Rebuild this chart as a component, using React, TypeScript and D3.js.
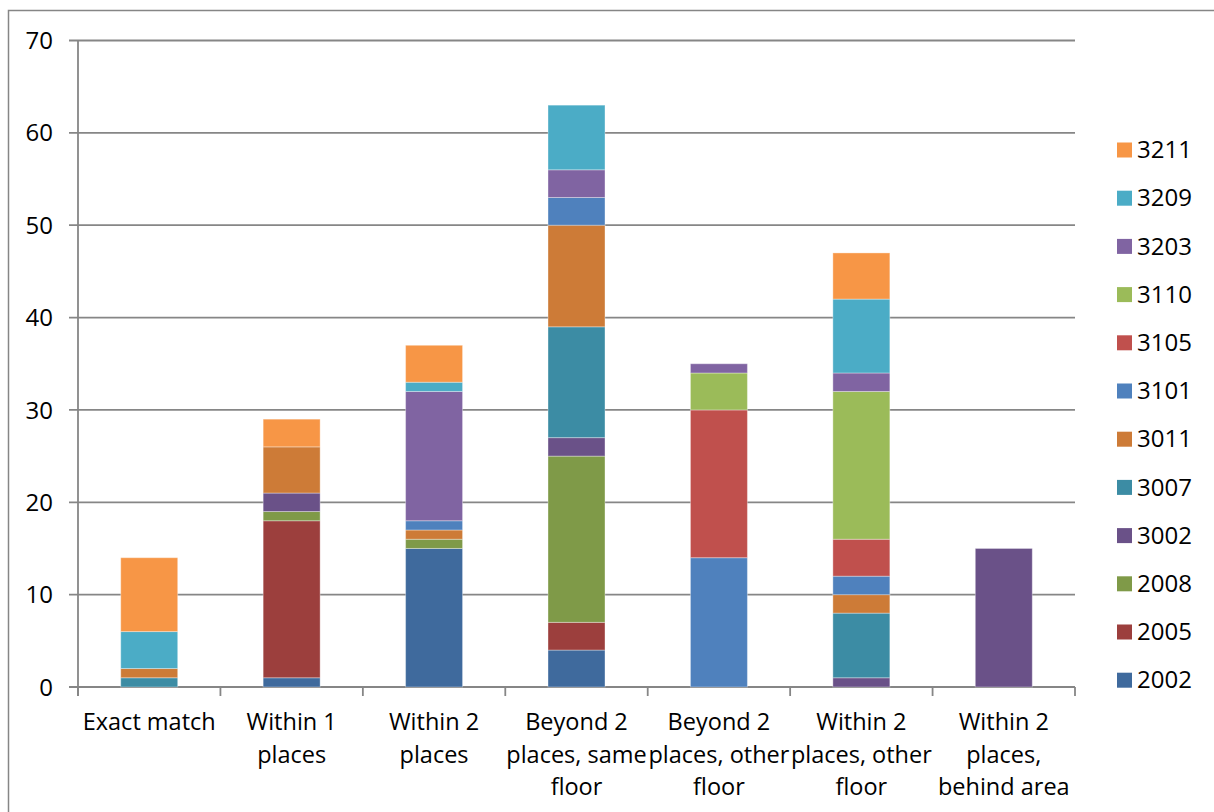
import React, { useEffect, useRef } from "react";
import * as d3 from "d3";

const categories: string[][] = [
  ["Exact match"],
  ["Within 1", "places"],
  ["Within 2", "places"],
  ["Beyond 2", "places, same", "floor"],
  ["Beyond 2", "places, other", "floor"],
  ["Within 2", "places, other", "floor"],
  ["Within 2", "places,", "behind area"],
];

const seriesNames = ["2002", "2005", "2008", "3002", "3007", "3011", "3101", "3105", "3110", "3203", "3209", "3211"];
const s2002 = [0, 1, 15, 4, 0, 0, 0];
const s2005 = [0, 17, 0, 3, 0, 0, 0];
const s2008 = [0, 1, 1, 18, 0, 0, 0];
const s3002 = [0, 2, 0, 2, 0, 1, 15];
const s3007 = [1, 0, 0, 12, 0, 7, 0];
const s3011 = [1, 5, 1, 11, 0, 2, 0];
const s3101 = [0, 0, 1, 3, 14, 2, 0];
const s3105 = [0, 0, 0, 0, 16, 4, 0];
const s3110 = [0, 0, 0, 0, 4, 16, 0];
const s3203 = [0, 0, 14, 3, 1, 2, 0];
const s3209 = [4, 0, 1, 7, 0, 8, 0];
const s3211 = [8, 3, 4, 0, 0, 5, 0];
const seriesValues = [s2002, s2005, s2008, s3002, s3007, s3011, s3101, s3105, s3110, s3203, s3209, s3211];
const seriesColors = ["#3F6A9D", "#9C3F3D", "#7F9A48", "#6A5188", "#3C8CA4", "#CD7B37", "#4F81BD", "#C0504D", "#9BBB59", "#8064A2", "#4BACC6", "#F79646"];
const yTicks = [0, 10, 20, 30, 40, 50, 60, 70];

export default function App() {
  const ref = useRef<SVGSVGElement>(null);
  useEffect(() => {
    const svg = d3.select(ref.current);
    svg.selectAll("*").remove();
    const W = 1214, H = 812;
    const left = 78, right = 1075, top = 40.5, bottom = 687;
    const font = "'Open Sans', sans-serif";
    const fsLabel = 23.5;
    const fsNum = 24;
    const grey = "#868686";

    // outer border
    svg.append("rect").attr("x", 8.5).attr("y", 10.5).attr("width", W + 20).attr("height", H + 20)
      .attr("fill", "none").attr("stroke", grey).attr("stroke-width", 1.5);

    const x = d3.scaleBand().domain(categories.map((_, i) => String(i))).range([left, right]).paddingInner(0.6).paddingOuter(0.3);
    const xb = d3.scaleBand().domain(categories.map((_, i) => String(i))).range([left, right]);
    const y = d3.scaleLinear().domain([0, 70]).range([bottom, top]);

    // gridlines
    svg.append("g").selectAll("line").data(yTicks).join("line")
      .attr("x1", left - 9).attr("x2", right).attr("y1", (d) => y(d)).attr("y2", (d) => y(d))
      .attr("stroke", grey).attr("stroke-width", 1.8);
    // y axis
    svg.append("line").attr("x1", left).attr("x2", left).attr("y1", top).attr("y2", bottom + 9)
      .attr("stroke", grey).attr("stroke-width", 1.8);
    // x ticks
    const bounds = categories.map((_, i) => xb(String(i))!).concat([right]);
    svg.append("g").selectAll("line").data(bounds).join("line")
      .attr("x1", (d) => d).attr("x2", (d) => d).attr("y1", bottom).attr("y2", bottom + 9)
      .attr("stroke", grey).attr("stroke-width", 1.8);

    // y labels
    svg.append("g").selectAll("text").data(yTicks).join("text")
      .attr("x", 53).attr("y", (d) => y(d)).attr("dy", "0.36em").attr("text-anchor", "end")
      .attr("font-family", font).attr("font-size", fsNum).attr("fill", "#000").text((d) => String(d));

    // stacks
    const rows = categories.map((_, i) => {
      const r: any = { key: String(i) };
      seriesNames.forEach((n, j) => (r[n] = seriesValues[j][i]));
      return r;
    });
    const stack = d3.stack<any>().keys(seriesNames)(rows);
    stack.forEach((layer, j) => {
      svg.append("g").selectAll("rect").data(layer.filter((d) => d[1] - d[0] > 0)).join("rect")
        .attr("x", (d) => x(d.data.key)!)
        .attr("width", x.bandwidth())
        .attr("y", (d) => y(d[1]))
        .attr("height", (d) => y(d[0]) - y(d[1]))
        .attr("fill", seriesColors[j])
        .attr("stroke", "rgba(255,255,255,0.35)").attr("stroke-width", 1);
    });

    // x labels
    categories.forEach((lines, i) => {
      const cx = xb(String(i))! + xb.bandwidth() / 2;
      const t = svg.append("text").attr("text-anchor", "middle").attr("font-family", font)
        .attr("font-size", fsLabel).attr("fill", "#000");
      lines.forEach((ln, k) => {
        t.append("tspan").attr("x", cx).attr("y", 730 + k * 32.5).text(ln);
      });
    });

    // legend
    const order = seriesNames.map((_, i) => i).reverse();
    const lg = svg.append("g");
    order.forEach((j, k) => {
      const cy = 149.5 + k * 48.2;
      lg.append("rect").attr("x", 1117).attr("y", cy - 7).attr("width", 15).attr("height", 15).attr("fill", seriesColors[j]);
      lg.append("text").attr("x", 1137).attr("y", cy).attr("dy", "0.36em").attr("font-family", font)
        .attr("font-size", fsNum).attr("fill", "#000").text(seriesNames[j]);
    });
  }, []);
  return (
    <svg ref={ref} width={1214} height={812} style={{ position: "absolute", left: 0, top: 0, background: "#fff" }} />
  );
}
